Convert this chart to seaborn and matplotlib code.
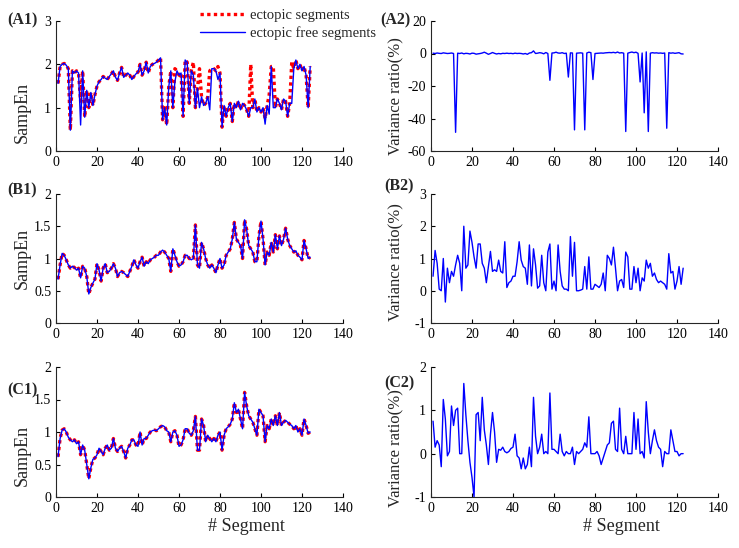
import numpy as np
import matplotlib
matplotlib.use("Agg")
import matplotlib.pyplot as plt
import seaborn as sns
from matplotlib.lines import Line2D

# SampEn por segmento (A1: com/sem batimentos ectópicos)
a1_ectopic = [1.56, 1.95, 2.0, 2.02, 1.98, 1.9, 0.48, 1.85, 1.8, 1.85,
              1.8, 1.15, 1.85, 0.78, 1.4, 1.0, 1.35, 1.05, 1.3, 1.5,
              1.6, 1.65, 1.72, 1.68, 1.65, 1.72, 1.78, 1.85, 1.7, 1.63,
              1.8, 1.93, 1.7, 1.75, 1.8, 1.75, 1.65, 1.72, 1.78, 1.82,
              2.0, 1.75, 1.85, 2.05, 1.8, 1.95, 2.0, 2.02, 2.05, 2.1,
              2.15, 0.72, 1.0, 0.6, 1.48, 1.85, 1.0, 1.9, 1.85, 1.75,
              1.8, 0.8, 2.1, 2.05, 1.1, 1.85, 2.05, 1.0, 1.45, 1.9,
              1.25, 1.05, 1.1, 1.25, 1.85, 1.9, 1.9, 1.85, 1.95, 1.8,
              0.55, 1.05, 0.8, 1.0, 1.1, 0.68, 1.1, 1.0, 1.15, 0.95,
              1.1, 1.05, 0.95, 0.8, 2.0, 1.0, 1.2, 0.9, 1.0, 0.9,
              1.0, 0.75, 1.05, 1.3, 1.95, 1.95, 1.0, 1.2, 1.1, 0.95,
              1.2, 1.15, 0.8, 1.1, 2.05, 1.9, 2.1, 1.9, 2.0, 1.85,
              1.95, 1.75, 1.0, 1.95]
a1_free = [1.56, 1.95, 2.0, 2.02, 1.98, 1.9, 0.48, 1.85, 1.8, 1.85,
           1.8, 0.6, 1.85, 0.78, 1.4, 1.0, 1.35, 1.05, 1.3, 1.5,
           1.6, 1.65, 1.72, 1.68, 1.65, 1.72, 1.78, 1.85, 1.7, 1.63,
           1.8, 1.93, 1.7, 1.75, 1.8, 1.75, 1.65, 1.72, 1.78, 1.82,
           2.0, 1.75, 1.85, 2.05, 1.8, 1.95, 2.0, 2.02, 2.05, 2.1,
           2.15, 0.72, 1.0, 0.6, 1.48, 1.85, 1.0, 1.6, 1.85, 1.75,
           1.8, 0.8, 2.1, 2.05, 1.1, 1.85, 1.75, 1.0, 1.45, 1.0,
           1.25, 1.05, 1.1, 1.25, 0.95, 1.9, 1.9, 1.85, 1.65, 1.8,
           0.55, 1.05, 0.8, 1.0, 1.1, 0.68, 1.1, 1.0, 1.15, 0.95,
           1.1, 1.05, 0.95, 0.8, 1.0, 1.0, 1.2, 0.9, 1.0, 0.9,
           1.0, 0.62, 1.05, 0.85, 1.95, 1.0, 1.0, 1.2, 1.1, 0.95,
           1.2, 1.15, 0.8, 1.1, 1.1, 1.9, 2.1, 1.9, 2.0, 1.85,
           1.95, 1.75, 1.0, 1.95]
a2_ratio = [0.2, 0.0, 0.3, 0.1, 0.0, 0.4, 0.2, 0.0, 0.1, 0.3,
            0.0, -48.5, 0.2, 0.0, 0.3, -0.2, 0.1, 0.0, -0.3, 0.2,
            0.1, -0.4, -0.2, 0.0, 0.3, 0.8, 0.2, -0.5, 0.0, 0.6,
            0.1, -0.3, 0.0, -0.2, 0.1, 0.0, 0.2, 0.0, 0.1, -0.1,
            0.2, 0.0, 0.1, 0.0, -0.3, 0.0, -0.5, 0.3, 0.5, 1.6,
            0.0, 0.2, 0.5, 0.3, -0.2, 0.6, 0.0, -16.5, 0.3, 0.4,
            0.8, 0.3, 0.2, 0.5, 0.0, 0.2, -14.5, 0.4, 0.3, -47.0,
            0.2, 0.3, 0.4, 0.2, -47.0, 0.3, 0.8, 0.5, -16.0, 0.0,
            0.1, 0.2, 0.3, 0.2, 0.4, 0.5, 0.6, 0.5, 0.7, 0.4,
            0.9, 0.3, 0.5, 0.2, -48.0, 0.2, 0.6, 0.9, 0.5, 0.8,
            0.1, -17.5, 0.3, -36.5, 1.0, -48.0, 0.2, 0.5, 0.3, 0.4,
            0.2, 0.3, 0.1, 0.3, -46.0, 0.5, 0.2, 0.4, 0.1, 0.3,
            0.5, -0.2, -0.3]

b1_sampen = [0.68, 0.9, 1.08, 1.05, 0.98, 0.9, 0.85, 0.88, 0.86, 0.82,
             0.85, 0.7, 0.88, 0.85, 0.72, 0.45, 0.55, 0.62, 0.68, 0.92,
             0.82, 0.65, 0.85, 0.92, 0.78, 0.8, 0.85, 0.92, 0.85, 0.72,
             0.78, 0.8, 0.78, 0.75, 0.72, 0.8, 0.88, 0.98, 0.9, 0.85,
             0.95, 1.02, 0.88, 0.95, 0.92, 0.98, 1.0, 1.02, 1.05, 1.05,
             1.1, 1.13, 1.1, 1.05, 1.0, 0.8, 1.15, 1.05, 0.95, 0.88,
             0.9, 0.95, 1.05, 1.05, 1.0, 0.98, 1.0, 1.52, 0.9, 0.85,
             1.25, 1.15, 1.0, 0.9, 0.85, 0.9, 0.85, 0.78, 0.9, 1.0,
             0.85, 0.9, 1.05, 1.1, 1.15, 1.3, 1.56, 1.3, 1.25, 1.2,
             1.0, 1.6, 1.45, 1.2, 1.15, 1.1, 0.95, 0.95, 1.35, 1.58,
             1.3, 0.9, 1.1, 1.05, 1.25, 1.1, 1.37, 1.15, 1.35, 1.2,
             1.3, 1.47, 1.3, 1.2, 1.15, 1.1, 1.12, 1.05, 1.02, 0.98,
             1.28, 1.15, 1.0, 1.02]
b2_ratio = [0.45, 1.25, 0.85, 0.05, 0.0, 1.0, -0.35, 0.7, 0.25, 0.6,
            0.45, 0.8, 1.1, 0.85, 0.0, 2.0, 0.7, 0.8, 1.85, 1.5,
            1.05, 0.7, 1.45, 1.45, 0.85, 0.7, 0.25, 0.75, 1.22, 0.6,
            0.65, 0.6, 0.95, 0.6, 0.55, 1.52, 0.1, 0.25, 0.3, 0.45,
            0.45, 0.9, 1.52, 0.95, 0.75, 0.7, 0.2, 1.42, 0.15, 1.3,
            0.8, 0.08, 0.15, 1.1, 0.25, 0.0, 1.2, 1.45, 0.05, 0.3,
            0.0, 1.42, 0.6, 0.15, 0.05, 0.05, 0.0, 1.68, 0.45, 1.5,
            0.0, 0.0, 0.02, 0.05, 0.75, 0.05, 1.05, 0.05, 0.05, 0.2,
            0.15, 0.1, 0.2, 0.55, 0.0, 1.1, 1.0, 0.8, 1.35, 0.7,
            0.0, 0.3, 0.35, 0.1, 1.2, 1.05, 0.05, 0.05, 0.75, 0.25,
            0.7, 0.0, 0.4, 0.3, 0.95, 0.7, 0.85, 0.45, 0.55, 0.35,
            0.25, 0.3, 0.25, 0.2, 0.05, 1.15, 0.55, 0.6, 0.05, 0.3,
            0.75, 0.2, 0.7]

c1_sampen = [0.62, 0.9, 1.03, 1.05, 1.0, 0.92, 0.88, 0.85, 0.88, 0.82,
             0.85, 0.65, 0.8, 0.72, 0.5, 0.28, 0.45, 0.58, 0.6, 0.65,
             0.75, 0.7, 0.65, 0.75, 0.8, 0.72, 0.75, 0.9, 0.75, 0.7,
             0.75, 0.78, 0.7, 0.6, 0.75, 0.8, 0.88, 0.88, 0.8, 0.78,
             1.0, 0.8, 0.9, 0.9, 0.95, 1.0, 1.02, 1.03, 1.02, 1.05,
             1.08, 1.1, 1.08, 1.02, 1.0, 0.85, 1.0, 1.02, 0.95, 0.78,
             0.8, 0.88, 1.05, 1.05, 0.98, 0.95, 1.02, 1.24, 0.72, 0.72,
             1.2, 1.1, 0.85, 0.95, 0.9, 0.85, 0.9, 0.85, 0.95, 1.0,
             0.72, 0.95, 1.05, 1.08, 1.12, 1.2, 1.45, 1.3, 1.35, 1.2,
             1.05, 1.61, 1.4, 1.25, 1.2, 1.15, 1.05, 0.95, 1.35, 1.3,
             1.25, 0.85, 1.1, 1.05, 1.2, 1.1, 1.25, 1.1, 1.3, 1.1,
             1.15, 1.18, 1.15, 1.12, 1.1, 1.05, 1.1, 1.0, 1.05, 0.95,
             1.2, 1.1, 0.98, 1.0]
c2_ratio = [0.75, 0.15, 0.3, 0.2, -0.3, 1.25, 0.8, -0.05, 0.05, 1.1,
            0.65, 1.0, 1.05, 0.0, 0.0, 1.62, 0.9, 0.3, -0.2, -0.55,
            -1.0, 0.9, 0.95, 0.3, 1.3, 0.55, 0.2, -0.25, 0.45, 0.95,
            0.5, -0.2, 0.1, 0.08, 0.15, 0.05, 0.02, 0.05, 0.12, 0.15,
            0.45, -0.05, -0.1, -0.35, -0.1, -0.35, -0.25, 0.15, -0.3, 1.3,
            0.4, 0.0, 0.15, 0.45, 0.0, 0.05, 0.0, 1.4, 0.1, 0.1,
            0.05, 0.0, 0.45, 0.05, -0.05, 0.05, 0.0, 0.0, 0.15, -0.25,
            0.05, 0.0, 0.05, 0.1, 0.25, 0.15, 0.85, 0.0, 0.0, 0.0,
            0.05, -0.05, -0.25, -0.1, 0.05, 0.2, 0.25, 0.7, 0.75, 0.1,
            0.05, 1.05, 0.1, 0.0, 0.4, 0.0, 0.0, 0.0, 0.95, 0.1,
            0.8, 0.0, 0.05, -0.1, 1.2, 0.5, 0.0, 0.3, 0.55, 0.3,
            0.15, 0.1, -0.3, 0.05, 0.0, 0.0, 0.55, 0.3, 0.05, 0.05,
            -0.05, 0.0, 0.0]

seg_sampen = np.arange(1, len(a1_ectopic) + 1)
seg_ratio = np.arange(1, len(a2_ratio) + 1)

sns.set_style("ticks")
plt.rcParams['font.family'] = ['Liberation Serif', 'DejaVu Serif']
plt.rcParams['xtick.direction'] = 'in'
plt.rcParams['ytick.direction'] = 'in'
plt.rcParams['xtick.major.size'] = 3
plt.rcParams['ytick.major.size'] = 3
plt.rcParams['axes.linewidth'] = 0.8

fig = plt.figure(figsize=(7.39, 5.48), dpi=100)
W, H = 739, 548

def make_ax(x0, y_top, y_bot):
    return fig.add_axes([x0 / W, 1 - y_bot / H, 287 / W, (y_bot - y_top) / H])

ax_a1 = make_ax(56, 21, 151)
ax_a2 = make_ax(431, 21, 151)
ax_b1 = make_ax(56, 194, 323)
ax_b2 = make_ax(431, 194, 323)
ax_c1 = make_ax(56, 367, 497)
ax_c2 = make_ax(431, 367, 497)

red_kw = dict(color='red', linestyle=(0, (1, 1)), linewidth=2.4)
blue_kw = dict(color='blue', linewidth=1)

# painéis da esquerda: SampEn
sns.lineplot(x=seg_sampen, y=a1_ectopic, ax=ax_a1, **red_kw)
sns.lineplot(x=seg_sampen, y=a1_free, ax=ax_a1, **blue_kw)
for ax, vals in [(ax_b1, b1_sampen), (ax_c1, c1_sampen)]:
    sns.lineplot(x=seg_sampen, y=vals, ax=ax, **red_kw)
    sns.lineplot(x=seg_sampen, y=vals, ax=ax, **blue_kw)

# painéis da direita: razão de variância
for ax, vals in [(ax_a2, a2_ratio), (ax_b2, b2_ratio), (ax_c2, c2_ratio)]:
    sns.lineplot(x=seg_ratio, y=vals, ax=ax, **blue_kw)

limits = {ax_a1: (0, 3, [0, 1, 2, 3]),
          ax_a2: (-60, 20, [-60, -40, -20, 0, 20]),
          ax_b1: (0, 2, [0, 0.5, 1, 1.5, 2]),
          ax_b2: (-1, 3, [-1, 0, 1, 2, 3]),
          ax_c1: (0, 2, [0, 0.5, 1, 1.5, 2]),
          ax_c2: (-1, 2, [-1, 0, 1, 2])}

for ax, (lo, hi, ticks) in limits.items():
    ax.set_xlim(0, 140)
    ax.set_xticks(range(0, 141, 20))
    ax.set_ylim(lo, hi)
    ax.set_yticks(ticks)
    ax.set_yticklabels([f"{t:g}" for t in ticks])
    ax.tick_params(labelsize=10, colors='black', width=0.8)
    for s in ['top', 'right']:
        ax.spines[s].set_visible(False)
    ax.set_xlabel('')

# rótulos do eixo y (posição vertical)
for ax, yc in [(ax_a1, 0.3), (ax_b1, 0.5), (ax_c1, 0.32)]:
    ax.set_ylabel('SampEn', fontsize=13)
    ax.yaxis.set_label_coords(-0.088, yc)
for ax, yc in [(ax_a2, 0.42), (ax_b2, 0.47), (ax_c2, 0.38)]:
    ax.set_ylabel('Variance ratio(%)', fontsize=12)
    ax.yaxis.set_label_coords(-0.092, yc)
for ax in [ax_c1, ax_c2]:
    ax.set_xlabel('# Segment', fontsize=13)
    ax.xaxis.set_label_coords(0.664, -0.165)

# rótulos dos painéis
for txt, x, y in [('(A1)', 7, 20), ('(B1)', 7, 190), ('(C1)', 7, 390),
                  ('(A2)', 380, 20), ('(B2)', 384, 186), ('(C2)', 384, 383)]:
    fig.text(x / W, 1 - y / H, txt, fontsize=11.5, fontweight='bold', va='center', ha='left')

handles = [Line2D([], [], **red_kw), Line2D([], [], **blue_kw)]
fig.legend(handles, ['ectopic segments', 'ectopic free segments'],
           loc='upper left', bbox_to_anchor=(194 / W, 1 - 3 / H), frameon=False,
           fontsize=10.5, handlelength=3.1, handletextpad=0.35, labelspacing=0.3,
           borderaxespad=0)

fig.savefig('out.png', dpi=100)
